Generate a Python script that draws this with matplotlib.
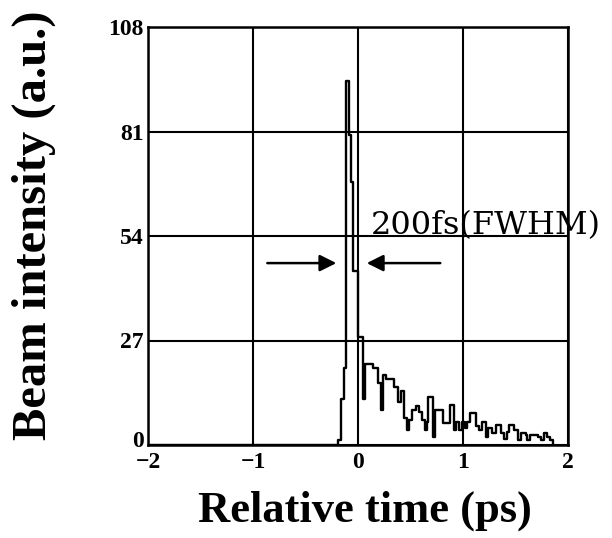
import matplotlib
matplotlib.use("Agg")
import matplotlib.pyplot as plt
import matplotlib.transforms as mtransforms
import numpy as np

# 时间 (ps) 和强度 (a.u.), 阶梯曲线
t = [-2.0, -0.19, -0.16, -0.13, -0.11, -0.085, -0.065, -0.045, 0.0,
     0.01, 0.047, 0.066, 0.095, 0.14, 0.19, 0.22, 0.24, 0.27, 0.31,
     0.34, 0.38, 0.41, 0.44, 0.47, 0.49, 0.51, 0.55, 0.58, 0.61, 0.64,
     0.66, 0.67, 0.71, 0.73, 0.76, 0.81, 0.88, 0.91, 0.93, 0.96, 0.99,
     1.02, 1.04, 1.07, 1.12, 1.15, 1.18, 1.22, 1.24, 1.28, 1.31, 1.36,
     1.39, 1.42, 1.44, 1.49, 1.52, 1.55, 1.60, 1.61, 1.64, 1.71, 1.74,
     1.77, 1.80, 1.83, 1.86]
intensity = [0, 1.3, 12, 20, 94, 80, 68, 45, 28,
             28, 12, 21, 21, 20, 16, 9, 18, 17, 17,
             15, 11, 14, 7, 4, 6.5, 9, 10, 8.5, 6.5, 4,
             6, 12.4, 2, 9, 9, 5.7, 10.3, 4, 6, 4, 6,
             4.5, 6, 8.3, 5, 4, 6, 2, 4.4, 3, 5.2, 3,
             1.5, 3.4, 5.2, 4, 1.3, 3, 2.5, 1.3, 2.6, 2, 1.3,
             3, 2, 1.3, 0]

xticks = [-2, -1, 0, 1, 2]
yticks = [0, 27, 54, 81, 108]

plt.rcParams['font.family'] = ['Liberation Serif', 'DejaVu Serif']

fig = plt.figure(figsize=(6.12, 5.38), dpi=100)
ax = fig.add_axes([148/612, 1-445/538, 420/612, 418/538])

ax.plot(t, intensity, drawstyle='steps-post', color='black', lw=1.7)

ax.set_xlim(-2, 2)
ax.set_ylim(0, 108)
ax.set_xticks(xticks)
ax.set_yticks(yticks)
ax.set_xticklabels([str(v).replace('-', '\u2212') for v in xticks])
ax.grid(True, color='black', lw=1.5)
ax.set_axisbelow(True)
for s in ax.spines.values():
    s.set_linewidth(1.8)
ax.tick_params(length=0, labelsize=17, pad=3)
ax.tick_params(axis='x', pad=5)
for lab in ax.get_xticklabels() + ax.get_yticklabels():
    lab.set_fontweight('bold')
# 把 y 轴的 "0" 稍微上移, 避免和 x 轴的 "-2" 重叠
lab0 = ax.get_yticklabels()[0]
lab0.set_transform(lab0.get_transform() +
                   mtransforms.ScaledTranslation(0, 4/72, fig.dpi_scale_trans))

# FWHM 箭头
ax.annotate('', xy=(-0.18, 47), xytext=(-0.89, 47),
            arrowprops=dict(arrowstyle='-|>', color='black', lw=1.8, mutation_scale=25))
ax.annotate('', xy=(0.057, 47), xytext=(0.81, 47),
            arrowprops=dict(arrowstyle='-|>', color='black', lw=1.8, mutation_scale=25))
ax.text(0.12, 54.5, '200fs(FWHM)', fontsize=23, va='baseline', ha='left',
        family='DejaVu Serif', clip_on=False)

fig.text(34/612, 1-225/538, 'Beam intensity (a.u.)', rotation=90, ha='center', va='center',
         fontsize=35, fontweight='bold')
fig.text(365/612, 1-511/538, 'Relative time (ps)', ha='center', va='center',
         fontsize=32, fontweight='bold')

fig.savefig('out.png', dpi=100)
